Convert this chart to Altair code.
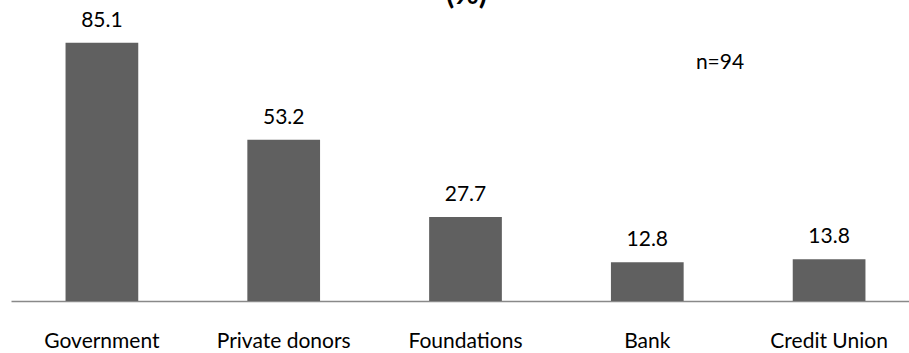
import altair as alt
import pandas as pd

# Funding sources, share of respondents (%)
categories = ["Government", "Private donors", "Foundations", "Bank", "Credit Union"]
values = [85.1, 53.2, 27.7, 12.8, 13.8]
value_labels = ["85.1", "53.2", "27.7", "12.8", "13.8"]
title_text = ["(%)"]
note_text = ["n=94"]

df = pd.DataFrame({"category": categories, "value": values, "label": value_labels})

W, H = 898, 273
FONT = "Lato"
FS = 21

x_enc = alt.X(
    "category:N",
    sort=categories,
    scale=alt.Scale(paddingInner=0.6, paddingOuter=0.3, range=[0, 909]),
    axis=alt.Axis(labels=False, ticks=False, title=None, grid=False,
                  domainColor="#898989", domainWidth=1.5),
)
y_enc = alt.Y("value:Q", scale=alt.Scale(domain=[0, 90], nice=False, zero=True), axis=None)

base = alt.Chart(df)

bars = base.mark_bar(color="#606060").encode(x=x_enc, y=y_enc)

value_text = base.mark_text(
    font=FONT, fontSize=FS, color="#000000", baseline="alphabetic", dy=-16
).encode(x=x_enc, y=y_enc, text="label:N")

cat_text = base.mark_text(
    font=FONT, fontSize=FS, color="#000000", baseline="alphabetic"
).encode(x=x_enc, y=alt.value(H + 47), text="category:N")

# Title sits above the top edge; only its lower part shows
title = alt.Chart(pd.DataFrame({"t": title_text})).mark_text(
    font=FONT, fontSize=30, fontWeight="bold", color="#000000", baseline="alphabetic"
).encode(x=alt.value(455.5), y=alt.value(-24), text="t:N")

note = alt.Chart(pd.DataFrame({"t": note_text})).mark_text(
    font=FONT, fontSize=FS, color="#000000", baseline="alphabetic"
).encode(x=alt.value(709), y=alt.value(41), text="t:N")

chart = (
    alt.layer(bars, value_text, cat_text, title, note)
    .properties(
        width=W,
        height=H,
        autosize=alt.AutoSizeParams(type="none"),
        padding={"left": 11, "top": 28, "right": 0, "bottom": 52},
        background="white",
    )
    .configure_view(stroke=None)
)

chart.save("out.html", embed_options={"renderer": "svg", "actions": False})
